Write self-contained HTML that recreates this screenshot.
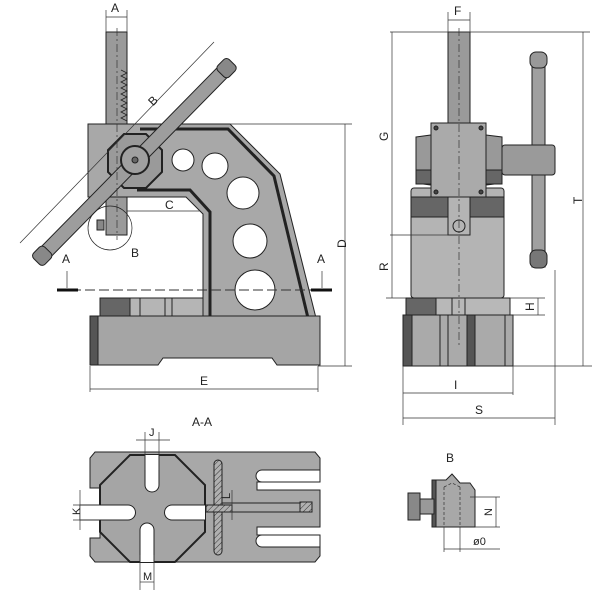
<!DOCTYPE html>
<html><head><style>body{margin:0;background:#fff}svg{display:block}text{font-family:"Liberation Sans",sans-serif;fill:#222}</style></head><body>
<svg width="600" height="600" viewBox="0 0 600 600" xmlns="http://www.w3.org/2000/svg">
<defs>
<pattern id="h" width="4" height="4" patternUnits="userSpaceOnUse" patternTransform="rotate(45)"><rect width="4" height="4" fill="#b0b0b0"/><line x1="0" y1="0" x2="0" y2="4" stroke="#333" stroke-width="1"/></pattern>
</defs>
<g stroke="#222" stroke-width="1">
<rect x="106" y="32" width="21" height="203" fill="#9a9a9a"/>
<path d="M121 70 l6 3 -6 3 6 3 -6 3 6 3 -6 3 6 3 -6 3 6 3 -6 3 6 3 -6 3 6 3 -6 3 6 3 -6 3 6 3" fill="none" stroke-width="0.8"/>
<path d="M88 124 L230 124 L280 174 L316 318 L203 318 L203 214 L186 197 L88 197 Z" fill="#a8a8a8"/>
<path d="M140 129 L228 129 L274 176 L308 318" fill="none" stroke-width="3"/>
<path d="M137 190 L190 190 L210 212 L210 318" fill="none" stroke-width="3"/>
<rect x="106" y="197" width="21" height="38" fill="#9a9a9a"/>
<circle cx="183" cy="160" r="11" fill="#fff"/>
<circle cx="215" cy="166" r="13" fill="#fff"/>
<circle cx="243" cy="193" r="16" fill="#fff"/>
<circle cx="250" cy="241" r="17" fill="#fff"/>
<circle cx="255" cy="290" r="20" fill="#fff"/>
<path d="M90 316 L320 316 L320 365 L277 365 L272 358 L163 358 L158 365 L90 365 Z" fill="#a5a5a5"/>
<rect x="90" y="316" width="8" height="49" fill="#555"/>
<rect x="100" y="298" width="103" height="18" fill="#b5b5b5"/>
<rect x="100" y="298" width="30" height="18" fill="#666"/>
<line x1="140" y1="298" x2="140" y2="316"/><line x1="165" y1="298" x2="165" y2="316"/><line x1="172" y1="298" x2="172" y2="316"/>
<polygon points="124,134 146,134 162,150 162,172 146,188 124,188 108,172 108,150" fill="#9a9a9a" stroke-width="2"/>
<g transform="translate(38,260) rotate(-45.5)">
<rect x="0" y="-7" width="275" height="14" fill="#9d9d9d"/>
<rect x="-2" y="-8" width="16" height="16" rx="4" fill="#888"/>
<rect x="261" y="-8" width="16" height="16" rx="4" fill="#888"/>
</g>
<circle cx="135" cy="160" r="14" fill="#a0a0a0" stroke-width="2"/>
<circle cx="135" cy="160" r="3" fill="#666"/>
<rect x="97" y="220" width="7" height="10" fill="#888"/>
<circle cx="110" cy="228" r="22" fill="none" stroke-width="0.7"/>
</g>
<g stroke="#333" stroke-width="0.7" fill="none">
<line x1="117" y1="28" x2="117" y2="240" stroke-dasharray="8,3,2,3"/>
<line x1="106" y1="10" x2="106" y2="32"/><line x1="127" y1="10" x2="127" y2="32"/><line x1="106" y1="17" x2="127" y2="17"/>
<line x1="20" y1="243" x2="214" y2="42"/><line x1="230" y1="124" x2="352" y2="124"/><line x1="318" y1="366" x2="352" y2="366"/>
<line x1="345" y1="124" x2="345" y2="366"/>
<line x1="90" y1="366" x2="90" y2="392"/><line x1="318" y1="366" x2="318" y2="392"/><line x1="90" y1="389" x2="318" y2="389"/>
<line x1="127" y1="211" x2="200" y2="211"/>
<line x1="57" y1="290" x2="332" y2="290" stroke-dasharray="10,4" stroke-width="1"/>
<line x1="67" y1="271" x2="67" y2="288"/><line x1="322" y1="271" x2="322" y2="288"/>
</g>
<g stroke="#111" stroke-width="3"><line x1="57" y1="290" x2="78" y2="290"/><line x1="311" y1="290" x2="332" y2="290"/></g>
<g font-size="12">
<text x="111" y="12">A</text><text x="147" y="104" transform="rotate(-45 153 98)">B</text>
<text x="165" y="209">C</text><text x="131" y="257">B</text>
<text x="62" y="263">A</text><text x="317" y="263">A</text>
<text x="200" y="385">E</text><text x="338" y="246" transform="rotate(-90 343 243)">D</text>
</g>
<g stroke="#222" stroke-width="1">
<rect x="448" y="32" width="22" height="170" fill="#9a9a9a"/>
<rect x="411" y="188" width="93" height="110" rx="3" fill="#b4b4b4"/>
<rect x="411" y="197" width="93" height="20" fill="#666"/>
<rect x="448" y="197" width="22" height="38" fill="#b4b4b4"/>
<circle cx="459" cy="226" r="6" fill="#b4b4b4"/>
<path d="M416 137 L431 135 L431 185 L416 183 Z" fill="#999"/>
<path d="M486 135 L502 137 L502 183 L486 185 Z" fill="#999"/>
<rect x="416" y="170" width="15" height="14" fill="#666"/><rect x="486" y="170" width="16" height="14" fill="#666"/>
<rect x="431" y="123" width="55" height="74" fill="#aaa"/>
<circle cx="436" cy="128" r="2" fill="#444"/><circle cx="481" cy="128" r="2" fill="#444"/><circle cx="436" cy="192" r="2" fill="#444"/><circle cx="481" cy="192" r="2" fill="#444"/>
<rect x="532" y="62" width="13" height="205" fill="#a0a0a0"/>
<rect x="502" y="145" width="53" height="30" rx="3" fill="#9a9a9a"/>
<rect x="530" y="52" width="17" height="16" rx="6" fill="#999"/>
<rect x="530" y="250" width="17" height="18" rx="6" fill="#777"/>
<rect x="406" y="298" width="104" height="17" fill="#b8b8b8"/>
<rect x="406" y="298" width="30" height="17" fill="#666"/>
<line x1="452" y1="298" x2="452" y2="315"/><line x1="465" y1="298" x2="465" y2="315"/>
<rect x="403" y="315" width="110" height="51" fill="#aaa"/>
<rect x="403" y="315" width="9" height="51" fill="#555"/><rect x="467" y="315" width="8" height="51" fill="#555"/>
<line x1="440" y1="315" x2="440" y2="366"/><line x1="448" y1="315" x2="448" y2="366"/><line x1="505" y1="315" x2="505" y2="366"/>
</g>
<g stroke="#333" stroke-width="0.7" fill="none">
<line x1="459" y1="28" x2="459" y2="345" stroke-dasharray="8,3,2,3"/>
<line x1="448" y1="12" x2="448" y2="32"/><line x1="470" y1="12" x2="470" y2="32"/><line x1="448" y1="20" x2="470" y2="20"/>
<line x1="390" y1="32" x2="590" y2="32"/><line x1="392" y1="32" x2="392" y2="298"/><line x1="390" y1="235" x2="459" y2="235"/>
<line x1="386" y1="298" x2="406" y2="298"/><line x1="583" y1="32" x2="583" y2="366"/><line x1="513" y1="366" x2="592" y2="366"/>
<line x1="510" y1="298" x2="545" y2="298"/><line x1="510" y1="315" x2="545" y2="315"/><line x1="538" y1="298" x2="538" y2="315"/>
<line x1="403" y1="366" x2="403" y2="425"/><line x1="513" y1="366" x2="513" y2="395"/><line x1="555" y1="270" x2="555" y2="425"/>
<line x1="403" y1="393" x2="513" y2="393"/><line x1="403" y1="418" x2="555" y2="418"/>
</g>
<g font-size="12">
<text x="454" y="15">F</text><text x="454" y="389">I</text><text x="475" y="414">S</text>
<text x="379" y="140" transform="rotate(-90 384 136)">G</text>
<text x="379" y="270" transform="rotate(-90 384 266)">R</text>
<text x="573" y="203" transform="rotate(-90 578 199)">T</text>
<text x="525" y="310" transform="rotate(-90 530 306)">H</text>
</g>
<text x="192" y="426" font-size="12">A-A</text>
<g stroke="#222" stroke-width="1">
<path d="M95 452 L315 452 L320 458 L320 482 L257 482 L257 490 L320 490 L320 527 L257 527 L257 535 L320 535 L320 556 L315 562 L95 562 L90 556 L90 538 L100 538 L100 520 L80 520 L80 505 L100 505 L100 488 L90 488 L90 458 Z" fill="#a8a8a8"/>
<path d="M130 455 L175 455 L205 485 L205 532 L175 562 L130 562 L100 532 L100 485 Z" fill="#a5a5a5" stroke-width="2"/>
<path d="M145 455 L145 485 A7 7 0 0 0 159 485 L159 455" fill="#fff"/>
<path d="M140 562 L140 530 A7 7 0 0 1 154 530 L154 562" fill="#fff"/>
<path d="M80 505 L128 505 A7 7 0 0 1 128 520 L80 520" fill="#fff"/>
<path d="M205 505 L172 505 A7 7 0 0 0 172 520 L205 520" fill="#fff"/>
<path d="M320 470 L262 470 A6 6 0 0 0 262 482 L320 482 Z" fill="#fff"/>
<path d="M320 535 L262 535 A6 6 0 0 0 262 547 L320 547 Z" fill="#fff"/>
<rect x="214" y="460" width="8" height="95" rx="4" fill="url(#h)"/>
<path d="M222 503 L300 503 L300 512 L222 512 Z" fill="#aaa"/>
<path d="M206 505 L232 505 L232 512 L206 512 Z" fill="url(#h)"/>
<rect x="300" y="502" width="12" height="10" fill="url(#h)"/>
<path d="M432 480 L446 480 L452 474 L460 483 L470 483 L475 490 L475 527 L432 527 Z" fill="#a8a8a8"/>
<rect x="432" y="480" width="4" height="47" fill="#555"/>
<rect x="408" y="493" width="12" height="27" fill="#888"/>
<rect x="420" y="499" width="14" height="15" fill="#999"/>
</g>
<g stroke="#333" stroke-width="0.7" fill="none">
<path d="M444 487 L444 527 M460 487 L460 527 M444 487 L452 483 L460 487" stroke-dasharray="3,2"/>
<line x1="444" y1="527" x2="444" y2="552"/><line x1="460" y1="527" x2="460" y2="552"/><line x1="444" y1="549" x2="500" y2="549"/>
<line x1="470" y1="497" x2="500" y2="497"/><line x1="475" y1="527" x2="500" y2="527"/><line x1="496" y1="497" x2="496" y2="527"/>
<line x1="145" y1="432" x2="145" y2="470"/><line x1="159" y1="432" x2="159" y2="470"/><line x1="136" y1="440" x2="170" y2="440"/>
<line x1="140" y1="555" x2="140" y2="590"/><line x1="154" y1="555" x2="154" y2="590"/><line x1="140" y1="582" x2="154" y2="582"/>
<line x1="73" y1="505" x2="100" y2="505"/><line x1="73" y1="520" x2="100" y2="520"/><line x1="80" y1="490" x2="80" y2="530"/>
<line x1="232" y1="490" x2="232" y2="520"/>
</g>
<g font-size="11">
<text x="149" y="436">J</text><text x="143" y="580">M</text>
<text x="73" y="516" transform="rotate(-90 76 512)">K</text>
<text x="222" y="497" transform="rotate(-90 227 494)">L</text>
<text x="446" y="462" font-size="12">B</text>
<text x="484" y="516" transform="rotate(-90 488 512)">N</text>
<text x="473" y="545">ø0</text>
</g>
</svg>
</body></html>
